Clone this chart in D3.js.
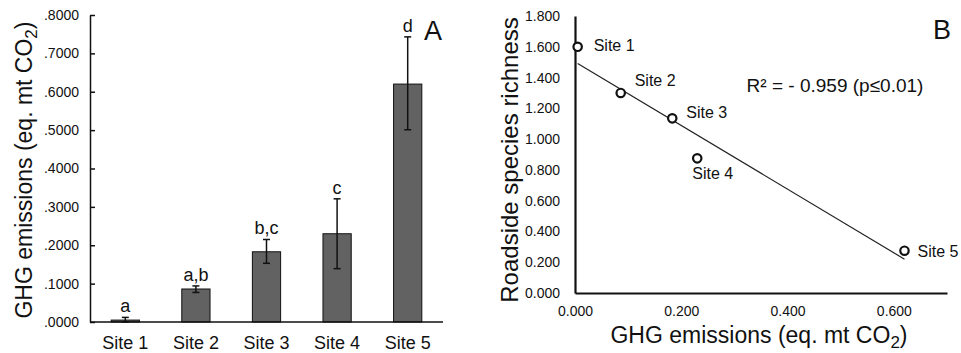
<!DOCTYPE html>
<html><head><meta charset="utf-8">
<script src="https://cdn.jsdelivr.net/npm/d3@7"></script>
<style>body{margin:0;background:#fff}svg{display:block;font-family:"Liberation Sans",Arial,sans-serif}</style>
</head><body><svg id="c" width="961" height="353"></svg>
<script>
const sites = ["Site 1","Site 2","Site 3","Site 4","Site 5"];
const ghg = [0.005, 0.086, 0.183, 0.230, 0.620];
const errLow = [0.000, 0.077, 0.153, 0.139, 0.501];
const errHigh = [0.012, 0.094, 0.215, 0.321, 0.743];
const letters = ["a","a,b","b,c","c","d"];
const richness = [1.600, 1.300, 1.135, 0.875, 0.275];
const yTicksA = [0,0.1,0.2,0.3,0.4,0.5,0.6,0.7,0.8];
const xTicksB = [0,0.2,0.4,0.6];
const yTicksB = [0,0.2,0.4,0.6,0.8,1.0,1.2,1.4,1.6,1.8];
const r2Text = "R² = - 0.959 (p≤0.01)";

const svg = d3.select("#c");

// ---------- Panel A ----------
const xA = d3.scaleBand().domain(sites).range([90,443]).paddingInner(0.6).paddingOuter(0.3);
const yA = d3.scaleLinear().domain([0,0.8]).range([322,15]);
const gA = svg.append("g");
const fmtA = v => d3.format(".4f")(v).replace(/^0/,"");

gA.selectAll("rect.bar").data(sites).enter().append("rect")
  .attr("x", d=>xA(d)).attr("width", xA.bandwidth())
  .attr("y", (d,i)=>yA(ghg[i])).attr("height",(d,i)=>yA(0)-yA(ghg[i]))
  .attr("fill","#626262").attr("stroke","#111").attr("stroke-width",1);

const cx = d=>xA(d)+xA.bandwidth()/2;
gA.selectAll("line.err").data(sites).enter().append("line")
  .attr("x1",cx).attr("x2",cx).attr("y1",(d,i)=>yA(errLow[i])).attr("y2",(d,i)=>yA(errHigh[i]))
  .attr("stroke","#111").attr("stroke-width",1.5);
[errLow, errHigh].forEach(arr=>{
  gA.selectAll(null).data(sites).enter().append("line")
    .attr("x1",d=>cx(d)-3.5).attr("x2",d=>cx(d)+3.5)
    .attr("y1",(d,i)=>yA(arr[i])).attr("y2",(d,i)=>yA(arr[i]))
    .attr("stroke","#111").attr("stroke-width",1.5);
});
gA.selectAll("text.let").data(sites).enter().append("text")
  .attr("x",cx).attr("y",(d,i)=>yA(errHigh[i])-5)
  .attr("text-anchor","middle").attr("font-size",18).attr("fill","#111").text((d,i)=>letters[i]);

// axes
const axYA = d3.axisLeft(yA).tickValues(yTicksA).tickFormat(fmtA).tickSizeInner(-5).tickSizeOuter(0).tickPadding(11);
const gy = gA.append("g").attr("transform","translate(90,0)").call(axYA);
gy.select(".domain").attr("stroke","#111").attr("stroke-width",1.5);
gy.selectAll(".tick line").attr("stroke","#111").attr("stroke-width",1.5);
gy.selectAll("text").attr("font-size",14).attr("font-family","Liberation Sans, Arial").attr("fill","#111");

const axXA = d3.axisBottom(xA).tickSize(0).tickPadding(14);
const gx = gA.append("g").attr("transform","translate(0,322)").call(axXA);
gx.select(".domain").attr("stroke","#111").attr("stroke-width",1.5).attr("d","M90,0H443");
gx.selectAll("text").attr("font-size",18).attr("font-family","Liberation Sans, Arial").attr("fill","#111");

const tA = gA.append("text").attr("transform","translate(32,170) rotate(-90)")
  .attr("text-anchor","middle").attr("font-size",23).attr("fill","#111");
tA.append("tspan").text("GHG emissions (eq. mt CO");
tA.append("tspan").attr("dy",5).attr("font-size",17).text("2");
tA.append("tspan").attr("dy",-5).text(")");

gA.append("text").attr("x",433).attr("y",40).attr("text-anchor","middle").attr("font-size",27).attr("fill","#111").text("A");

// ---------- Panel B ----------
const xB = d3.scaleLinear().domain([0,0.7]).range([575,947]);
const yB = d3.scaleLinear().domain([0,1.8]).range([293,16]);
const gB = svg.append("g");

const axYB = d3.axisLeft(yB).tickValues(yTicksB).tickFormat(d3.format(".3f")).tickSize(0).tickPadding(15);
const gyb = gB.append("g").attr("transform","translate(575,0)").call(axYB);
gyb.select(".domain").attr("stroke","#111").attr("stroke-width",2.2);
gyb.selectAll("text").attr("font-size",14).attr("font-family","Liberation Sans, Arial").attr("fill","#111");

const axXB = d3.axisBottom(xB).tickValues(xTicksB).tickFormat(d3.format(".3f")).tickSize(0).tickPadding(13);
const gxb = gB.append("g").attr("transform","translate(0,293)").call(axXB);
gxb.select(".domain").attr("stroke","#111").attr("stroke-width",2.2);
gxb.selectAll("text").attr("font-size",14).attr("font-family","Liberation Sans, Arial").attr("fill","#111");

// regression
const mx = d3.mean(ghg), my = d3.mean(richness);
const slope = d3.sum(ghg.map((x,i)=>(x-mx)*(richness[i]-my))) / d3.sum(ghg.map(x=>(x-mx)*(x-mx)));
const icpt = my - slope*mx;
const x0 = d3.min(ghg), x1 = d3.max(ghg);
gB.append("line").attr("x1",xB(x0)).attr("y1",yB(icpt+slope*x0))
  .attr("x2",xB(x1)).attr("y2",yB(icpt+slope*x1)).attr("stroke","#222").attr("stroke-width",1.2);

gB.selectAll("circle").data(sites).enter().append("circle")
  .attr("cx",(d,i)=>xB(ghg[i])).attr("cy",(d,i)=>yB(richness[i])).attr("r",4.2)
  .attr("fill","#fff").attr("stroke","#111").attr("stroke-width",2.2);

const lblOff = [[16,4],[14,-7],[14,0],[-5,21],[13,6]];
gB.selectAll("text.pl").data(sites).enter().append("text")
  .attr("x",(d,i)=>xB(ghg[i])+lblOff[i][0]).attr("y",(d,i)=>yB(richness[i])+lblOff[i][1])
  .attr("font-size",16).attr("fill","#111").text(d=>d);

gB.append("text").attr("x",835).attr("y",92).attr("text-anchor","middle").attr("font-size",19).attr("fill","#111").text(r2Text);
gB.append("text").attr("x",942).attr("y",39).attr("text-anchor","middle").attr("font-size",27).attr("fill","#111").text("B");

gB.append("text").attr("transform","translate(518,160) rotate(-90)")
  .attr("text-anchor","middle").attr("font-size",24).attr("fill","#111").text("Roadside species richness");

const tB = gB.append("text").attr("x",759).attr("y",343).attr("text-anchor","middle").attr("font-size",23).attr("fill","#111");
tB.append("tspan").text("GHG emissions (eq. mt CO");
tB.append("tspan").attr("dy",5).attr("font-size",17).text("2");
tB.append("tspan").attr("dy",-5).text(")");
</script></body></html>
